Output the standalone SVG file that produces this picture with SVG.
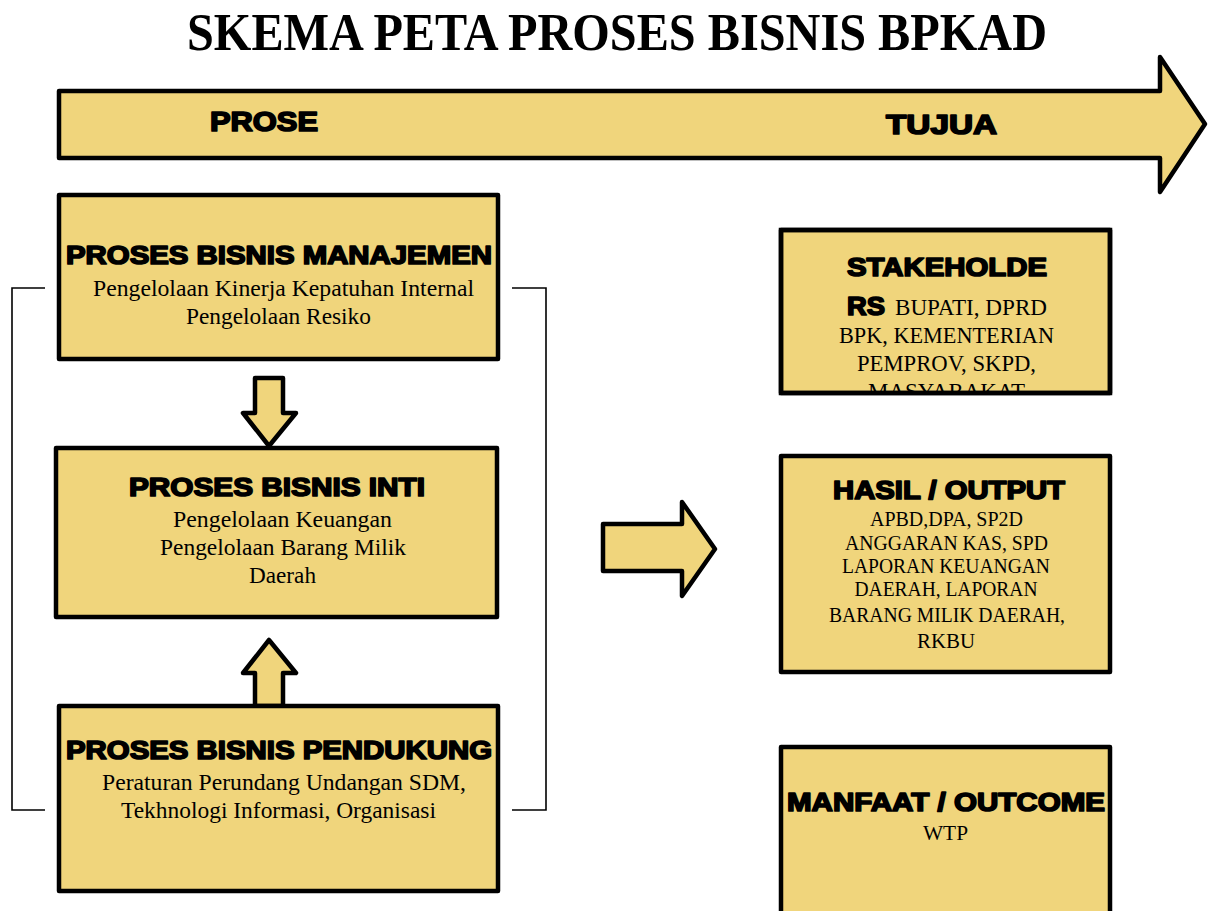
<svg xmlns="http://www.w3.org/2000/svg" width="1209" height="911" viewBox="0 0 1209 911">
<defs>
<style>
.box{fill:#F0D57C;stroke:#000;stroke-width:4.5;stroke-linejoin:round}
.blk{fill:#F0D57C;stroke:#000;stroke-width:4.5;stroke-linejoin:round}
.hv{font-family:"Liberation Sans",Arial,sans-serif;font-weight:bold;fill:#000;stroke:#000;stroke-width:1.7;stroke-linejoin:round}
.tm{font-family:"Liberation Serif","Times New Roman",serif;fill:#000}
.br{fill:none;stroke:#000;stroke-width:1.6}
</style>
<clipPath id="clipStake"><rect x="783" y="232" width="326" height="159"/></clipPath>
</defs>
<rect width="1209" height="911" fill="#fff"/>

<text id="title" x="617" y="50" text-anchor="middle" class="tm" font-weight="bold" font-size="52" textLength="860" lengthAdjust="spacingAndGlyphs">SKEMA PETA PROSES BISNIS BPKAD</text>

<g id="process-arrow">
<polygon class="blk" stroke-width="5" points="59,91 1160,91 1160,57 1205,124 1160,192 1160,158 59,158"/>
<text class="hv" x="210" y="131" font-size="27" textLength="108" lengthAdjust="spacingAndGlyphs">PROSE</text>
<text class="hv" x="886" y="134" font-size="27" textLength="111" lengthAdjust="spacingAndGlyphs">TUJUA</text>
</g>

<g id="connectors">
<polyline class="br" points="45,288 12,288 12,810 45,810"/>
<polyline class="br" points="512,288 546,288 546,810 512,810"/>
<polygon class="blk" points="255,378 283,378 283,413 296,413 269,446 243,413 255,413"/>
<polygon class="blk" points="269,640 296,673 283,673 283,706 255,706 255,673 243,673"/>
<polygon class="blk" points="603,524 682,524 682,502 715,549 682,596 682,571 603,571"/>
</g>

<g id="node-manajemen">
<rect class="box" x="59" y="195" width="439" height="164"/>
<text class="hv" x="279" y="264" text-anchor="middle" font-size="26" textLength="426" lengthAdjust="spacingAndGlyphs">PROSES BISNIS MANAJEMEN</text>
<text class="tm" x="283.5" y="296" text-anchor="middle" font-size="23.5" textLength="381" lengthAdjust="spacingAndGlyphs">Pengelolaan Kinerja Kepatuhan Internal</text>
<text class="tm" x="278.5" y="324" text-anchor="middle" font-size="23.5" textLength="185" lengthAdjust="spacingAndGlyphs">Pengelolaan Resiko</text>
</g>

<g id="node-inti">
<rect class="box" x="56" y="448" width="441" height="169"/>
<text class="hv" x="277" y="496" text-anchor="middle" font-size="26" textLength="296" lengthAdjust="spacingAndGlyphs">PROSES BISNIS INTI</text>
<text class="tm" x="282.5" y="527" text-anchor="middle" font-size="23.5" textLength="219" lengthAdjust="spacingAndGlyphs">Pengelolaan Keuangan</text>
<text class="tm" x="283" y="555" text-anchor="middle" font-size="23.5" textLength="246" lengthAdjust="spacingAndGlyphs">Pengelolaan Barang Milik</text>
<text class="tm" x="282.5" y="583" text-anchor="middle" font-size="23.5" textLength="67" lengthAdjust="spacingAndGlyphs">Daerah</text>
</g>

<g id="node-pendukung">
<rect class="box" x="59" y="706" width="439" height="185"/>
<text class="hv" x="279" y="759" text-anchor="middle" font-size="26" textLength="426" lengthAdjust="spacingAndGlyphs">PROSES BISNIS PENDUKUNG</text>
<text class="tm" x="284" y="790" text-anchor="middle" font-size="23.5" textLength="364" lengthAdjust="spacingAndGlyphs">Peraturan Perundang Undangan SDM,</text>
<text class="tm" x="278.5" y="818" text-anchor="middle" font-size="23.5" textLength="315" lengthAdjust="spacingAndGlyphs">Tekhnologi Informasi, Organisasi</text>
</g>

<g id="node-stakeholders">
<rect class="box" x="781" y="230" width="329" height="163"/>
<g clip-path="url(#clipStake)">
<text class="hv" x="847" y="276" font-size="26" textLength="200" lengthAdjust="spacingAndGlyphs">STAKEHOLDE</text>
<text class="hv" x="847" y="315" font-size="26" textLength="38" lengthAdjust="spacingAndGlyphs">RS</text>
<text class="tm" x="895" y="315" font-size="22.5" textLength="152" lengthAdjust="spacingAndGlyphs">BUPATI, DPRD</text>
<text class="tm" x="946.5" y="343" text-anchor="middle" font-size="22.5" textLength="215" lengthAdjust="spacingAndGlyphs">BPK, KEMENTERIAN</text>
<text class="tm" x="946.5" y="371" text-anchor="middle" font-size="22.5" textLength="179" lengthAdjust="spacingAndGlyphs">PEMPROV, SKPD,</text>
<text class="tm" x="946.5" y="399" text-anchor="middle" font-size="22.5" textLength="157" lengthAdjust="spacingAndGlyphs">MASYARAKAT</text>
</g>
<rect x="781" y="230" width="329" height="163" fill="none" stroke="#000" stroke-width="4.5"/>
</g>

<g id="node-output">
<rect class="box" x="781" y="456" width="329" height="216"/>
<text class="hv" x="949" y="499" text-anchor="middle" font-size="26" textLength="232" lengthAdjust="spacingAndGlyphs">HASIL / OUTPUT</text>
<text class="tm" x="946.5" y="526" text-anchor="middle" font-size="20" textLength="153" lengthAdjust="spacingAndGlyphs">APBD,DPA, SP2D</text>
<text class="tm" x="946.5" y="550" text-anchor="middle" font-size="20" textLength="203" lengthAdjust="spacingAndGlyphs">ANGGARAN KAS, SPD</text>
<text class="tm" x="946" y="573" text-anchor="middle" font-size="20" textLength="208" lengthAdjust="spacingAndGlyphs">LAPORAN KEUANGAN</text>
<text class="tm" x="946" y="596" text-anchor="middle" font-size="20" textLength="183" lengthAdjust="spacingAndGlyphs">DAERAH, LAPORAN</text>
<text class="tm" x="947" y="622" text-anchor="middle" font-size="20" textLength="236" lengthAdjust="spacingAndGlyphs">BARANG MILIK DAERAH,</text>
<text class="tm" x="946" y="648" text-anchor="middle" font-size="20" textLength="58" lengthAdjust="spacingAndGlyphs">RKBU</text>
</g>

<g id="node-outcome">
<rect class="box" x="781" y="747" width="329" height="180"/>
<text class="hv" x="946" y="811" text-anchor="middle" font-size="26" textLength="318" lengthAdjust="spacingAndGlyphs">MANFAAT / OUTCOME</text>
<text class="tm" x="945.5" y="840" text-anchor="middle" font-size="21" textLength="45" lengthAdjust="spacingAndGlyphs">WTP</text>
</g>
</svg>
